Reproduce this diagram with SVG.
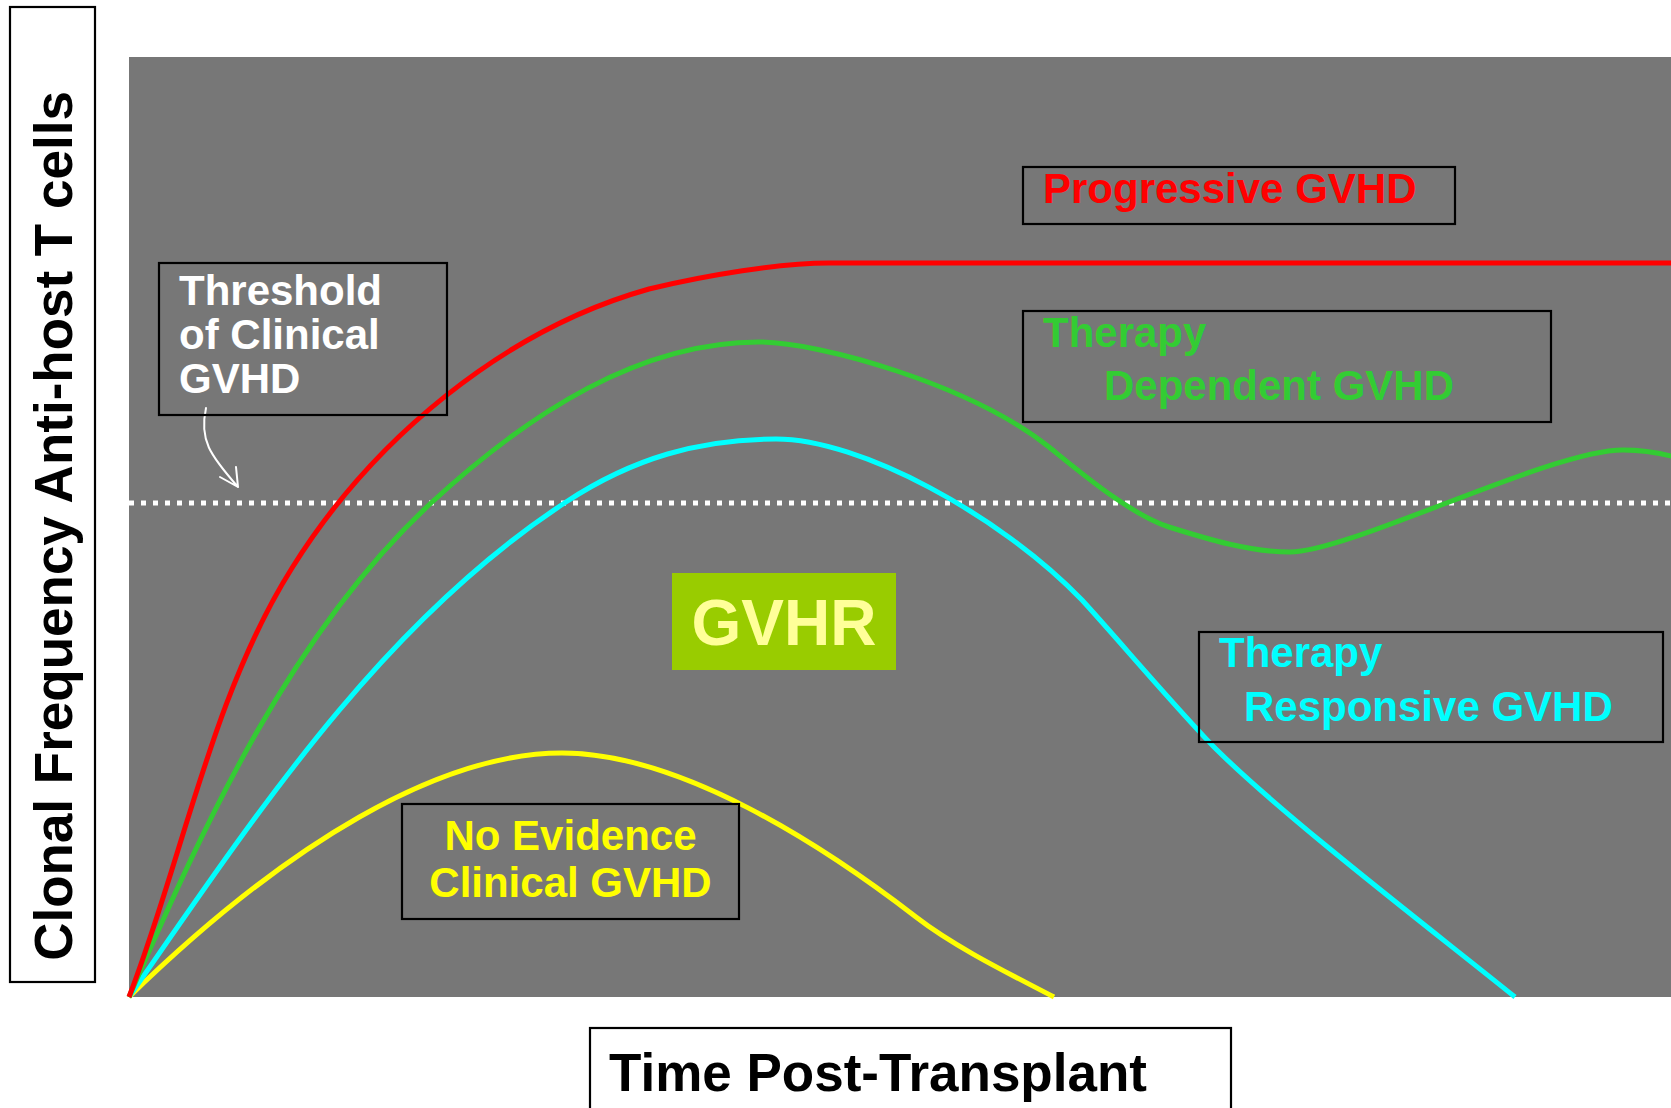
<svg xmlns="http://www.w3.org/2000/svg" width="1671" height="1108" viewBox="0 0 1671 1108">
<defs>
<style>
.t{font-family:"Liberation Sans",Arial,Helvetica,sans-serif;font-weight:bold;}
.box{fill:none;stroke:#000;stroke-width:2.2;}
.curve{fill:none;stroke-width:5;stroke-linecap:butt;stroke-linejoin:round;}
</style>
</defs>
<rect x="0" y="0" width="1671" height="1108" fill="#ffffff"/>
<rect id="plot-area" x="129" y="57" width="1542" height="940" fill="#777777"/>

<g id="y-axis-label">
<rect x="10" y="7" width="85" height="975" fill="#ffffff" stroke="#000" stroke-width="2.2"/>
<text class="t" transform="translate(72,526) rotate(-90)" text-anchor="middle" font-size="53" fill="#000">Clonal Frequency Anti-host T cells</text>
</g>

<g id="x-axis-label">
<rect x="590" y="1028" width="641" height="100" fill="#ffffff" stroke="#000" stroke-width="2.2"/>
<text class="t" x="609" y="1091" font-size="53" fill="#000">Time Post-Transplant</text>
</g>

<g id="threshold-line">
<line x1="129" y1="503" x2="1671" y2="503" stroke="#ffffff" stroke-width="5" stroke-dasharray="5 7"/>
</g>

<g id="connectors">
<path class="curve" stroke="#ffff00" d="M129,997 C287,843 440,753 562,753 C680,753 821,844 916,917 C956,948 1014,976 1054,997"/>
<path class="curve" stroke="#00ffff" d="M129,997 C254,817 381,623 566,502 C633,458 700,439 776,439 C860,439 1000,515 1082,600 C1116,637 1182,715 1217,750 C1288,820 1437,934 1515,997"/>
<path class="curve" stroke="#33cc33" d="M129,997 C205,822 292,632 431,503 C530,412 640,342 759,342 C820,342 971,385 1049,447 C1080,472 1131,515 1169,527 C1207,539 1250,552 1290,552 C1350,552 1550,450 1623,450 C1645,450 1660,453 1675,457"/>
<path class="curve" stroke="#ff0000" d="M129,997 C183,857 212,695 292,568 C372,440 503,330 649,289 C707,275 780,263 829,263 L1675,263"/>
<path fill="none" stroke="#ffffff" stroke-width="2" stroke-linecap="round" stroke-linejoin="round" d="M206,408 C199,440 210,455 238,487 M220,477 L238,487 L236,467"/>
</g>

<g id="threshold-label">
<rect class="box" x="159" y="263" width="288" height="152"/>
<text class="t" font-size="42" fill="#ffffff"><tspan x="179" y="305">Threshold</tspan><tspan x="179" y="349">of Clinical</tspan><tspan x="179" y="393">GVHD</tspan></text>
</g>

<g id="progressive-label">
<rect class="box" x="1023" y="167" width="432" height="57"/>
<text class="t" x="1043" y="203" font-size="42" fill="#ff0000">Progressive GVHD</text>
</g>

<g id="dependent-label">
<rect class="box" x="1023" y="311" width="528" height="111"/>
<text class="t" font-size="42" fill="#33cc33"><tspan x="1043" y="347">Therapy</tspan><tspan x="1104" y="400">Dependent GVHD</tspan></text>
</g>

<g id="responsive-label">
<rect class="box" x="1199" y="632" width="464" height="110"/>
<text class="t" font-size="42" fill="#00ffff"><tspan x="1219" y="667">Therapy</tspan><tspan x="1244" y="721">Responsive GVHD</tspan></text>
</g>

<g id="no-evidence-label">
<rect class="box" x="402" y="804" width="337" height="115"/>
<text class="t" font-size="42" fill="#ffff00" text-anchor="middle"><tspan x="570.5" y="850">No Evidence</tspan><tspan x="570.5" y="897">Clinical GVHD</tspan></text>
</g>

<g id="gvhr-label">
<rect x="672" y="573" width="224" height="97" fill="#99cc00"/>
<text class="t" x="784" y="645" font-size="64" fill="#ffff99" text-anchor="middle">GVHR</text>
</g>
</svg>
